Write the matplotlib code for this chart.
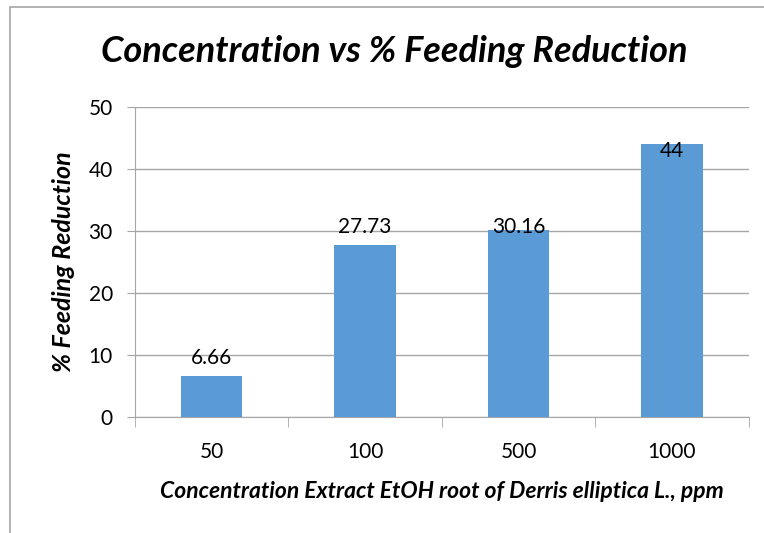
import matplotlib
matplotlib.use("Agg")
import matplotlib.pyplot as plt
from matplotlib.patches import Rectangle

plt.rcParams["font.family"] = ["Lato", "DejaVu Sans"]

categories = ["50", "100", "500", "1000"]
reduction = [6.66, 27.73, 30.16, 44]
value_labels = ["6.66", "27.73", "30.16", "44"]
yticks = [0, 10, 20, 30, 40, 50]

# label offsets in points (Excel placed them a bit unevenly)
label_offsets = [13, 13, 2, -5]

fig = plt.figure(figsize=(7.64, 5.33), dpi=100)
ax = fig.add_axes([0.1767, 0.2176, 0.8033, 0.5817])

# outer chart border (left/top visible)
fig.patches.append(Rectangle((10 / 764, -0.05), 1.2, (533 - 7) / 533 + 0.05,
                             transform=fig.transFigure, fill=False,
                             edgecolor="#A6A6A6", linewidth=1.2))

x = range(len(categories))
ax.bar(x, reduction, width=0.4, color="#5B9BD5", zorder=3)

for i, (v, lab) in enumerate(zip(reduction, value_labels)):
    ax.annotate(lab, (i, v), xytext=(0, label_offsets[i]), textcoords="offset points",
                ha="center", va="center", fontsize=15, color="black", zorder=4)

ax.set_xlim(-0.5, len(categories) - 0.5)
ax.set_ylim(0, 50)
ax.set_yticks(yticks)
ax.set_yticklabels([str(t) for t in yticks], fontsize=15)
ax.yaxis.grid(True, color="#A6A6A6", linewidth=1.0, zorder=0)

ax.set_xticks([i for i in x])
ax.set_xticklabels(categories, fontsize=15)
ax.tick_params(axis="x", length=0, pad=18)
ax.tick_params(axis="y", length=6, color="#A6A6A6", pad=10)
# category boundary ticks
ax.set_xticks([i - 0.5 for i in range(len(categories) + 1)], minor=True)
ax.tick_params(axis="x", which="minor", length=7, color="#A6A6A6", direction="out")

for s in ["top", "right"]:
    ax.spines[s].set_visible(False)
for s in ["left", "bottom"]:
    ax.spines[s].set_color("#A6A6A6")

# title sits centred over the whole chart, not the plot area
fig.text(394 / 764, 1 - 52 / 533, "Concentration vs % Feeding Reduction", fontsize=26,
         fontweight="bold", fontstyle="italic", ha="center", va="center")
ax.set_ylabel("% Feeding Reduction", fontsize=18, fontweight="bold", fontstyle="italic",
              labelpad=10)
ax.set_xlabel("Concentration Extract EtOH root of Derris elliptica L., ppm", fontsize=16.5,
              fontweight="bold", fontstyle="italic", labelpad=14)

fig.savefig("out.png", dpi=100)
